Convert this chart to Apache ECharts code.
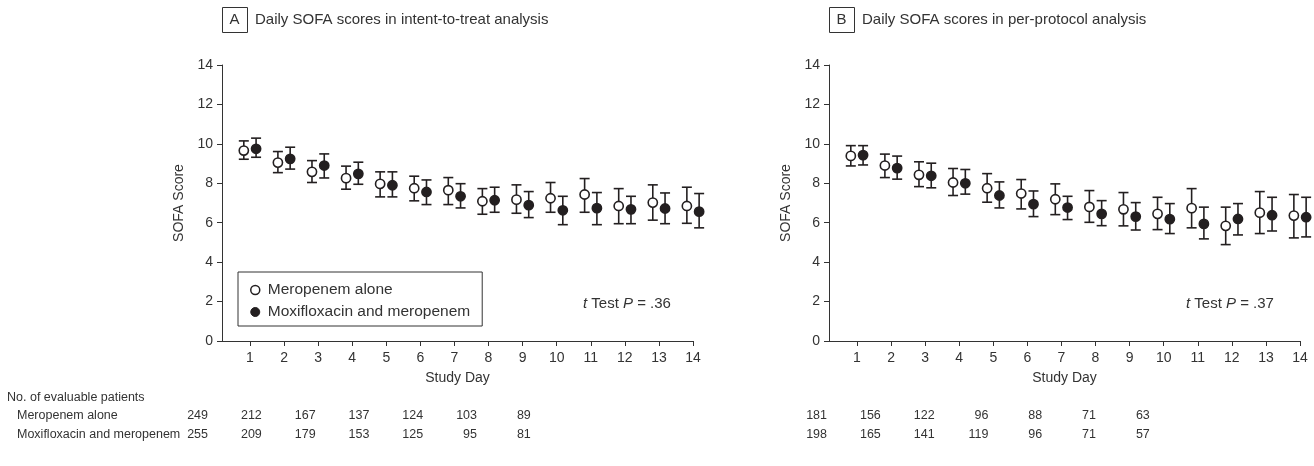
<!DOCTYPE html>
<html>
<head>
<meta charset="utf-8">
<script src="https://cdn.jsdelivr.net/npm/echarts@6/dist/echarts.min.js"></script>
<style>
html,body{margin:0;padding:0;background:#fff;}
#chart{width:1314px;height:466px;}
</style>
</head>
<body>
<div id="chart"></div>
<script>
// ---------- data ----------
const days = [1,2,3,4,5,6,7,8,9,10,11,12,13,14];
const yTicks = [0,2,4,6,8,10,12,14];

// Panel A: intent-to-treat
const ittMeroMean = [9.66, 9.05, 8.58, 8.26, 7.97, 7.75, 7.65, 7.09, 7.17, 7.24, 7.43, 6.85, 7.02, 6.85];
const ittMeroLo   = [9.22, 8.54, 8.04, 7.70, 7.31, 7.11, 6.92, 6.43, 6.48, 6.53, 6.53, 5.95, 6.13, 5.97];
const ittMeroHi   = [10.15, 9.61, 9.15, 8.87, 8.58, 8.36, 8.29, 7.73, 7.92, 8.04, 8.24, 7.73, 7.92, 7.80];
const ittMoxiMean = [9.75, 9.24, 8.90, 8.48, 7.90, 7.56, 7.34, 7.14, 6.89, 6.63, 6.74, 6.68, 6.72, 6.56];
const ittMoxiLo   = [9.32, 8.72, 8.27, 7.95, 7.31, 6.92, 6.75, 6.53, 6.26, 5.90, 5.90, 5.95, 5.95, 5.74];
const ittMoxiHi   = [10.29, 9.83, 9.49, 9.07, 8.58, 8.17, 7.98, 7.80, 7.58, 7.34, 7.53, 7.34, 7.51, 7.48];

// Panel B: per-protocol
const ppMeroMean = [9.39, 8.90, 8.43, 8.04, 7.75, 7.48, 7.19, 6.80, 6.68, 6.45, 6.74, 5.84, 6.51, 6.36];
const ppMeroLo   = [8.88, 8.29, 7.83, 7.38, 7.04, 6.70, 6.41, 6.02, 5.84, 5.65, 5.74, 4.89, 5.45, 5.23];
const ppMeroHi   = [9.91, 9.48, 9.09, 8.75, 8.49, 8.19, 7.97, 7.63, 7.53, 7.29, 7.73, 6.79, 7.58, 7.43];
const ppMoxiMean = [9.43, 8.77, 8.38, 8.00, 7.38, 6.94, 6.77, 6.45, 6.31, 6.18, 5.94, 6.19, 6.38, 6.28];
const ppMoxiLo   = [8.93, 8.21, 7.77, 7.45, 6.75, 6.31, 6.16, 5.85, 5.63, 5.45, 5.18, 5.38, 5.58, 5.28];
const ppMoxiHi   = [9.91, 9.38, 9.02, 8.70, 8.07, 7.61, 7.34, 7.12, 7.02, 6.97, 6.79, 6.97, 7.29, 7.29];

// Numbers of evaluable patients
const ittNMero = [249, 212, 167, 137, 124, 103, 89];
const ittNMoxi = [255, 209, 179, 153, 125, 95, 81];
const ppNMero  = [181, 156, 122, 96, 88, 71, 63];
const ppNMoxi  = [198, 165, 141, 119, 96, 71, 57];

const seriesNames = ['Meropenem alone', 'Moxifloxacin and meropenem'];
const panelTitles = ['Daily SOFA scores in intent-to-treat analysis', 'Daily SOFA scores in per-protocol analysis'];
const panelLetters = ['A', 'B'];
const pValues = ['.36', '.37'];

// ---------- helpers ----------
const INK = '#231f20';
const TXT = '#333';
const FONT = '"Liberation Sans", Arial, sans-serif';

function rows(mean, lo, hi) {
  return days.map((d, i) => [d, mean[i], lo[i], hi[i]]);
}

function makeRender(dx, filled) {
  return function (params, api) {
    const x = api.value(0) + dx;
    const pm = api.coord([x, api.value(1)]);
    const pl = api.coord([x, api.value(2)]);
    const ph = api.coord([x, api.value(3)]);
    const cap = 5;
    const ls = { stroke: INK, lineWidth: 1.6 };
    return {
      type: 'group',
      children: [
        { type: 'line', shape: { x1: pl[0], y1: pl[1], x2: ph[0], y2: ph[1] }, style: ls },
        { type: 'line', shape: { x1: ph[0] - cap, y1: ph[1], x2: ph[0] + cap, y2: ph[1] }, style: ls },
        { type: 'line', shape: { x1: pl[0] - cap, y1: pl[1], x2: pl[0] + cap, y2: pl[1] }, style: ls },
        { type: 'circle', shape: { cx: pm[0], cy: pm[1], r: 4.6 },
          style: { fill: filled ? INK : '#fff', stroke: INK, lineWidth: 1.6 } }
      ]
    };
  };
}

const DX = 0.18;
const gridsPos = [{ left: 222 }, { left: 829 }];

const grids = gridsPos.map(g => ({ left: g.left, top: 65, width: 471, height: 276 }));

const xAxes = [0, 1].map(i => ({
  gridIndex: i, type: 'value', min: 0.18, max: 14,
  name: 'Study Day', nameLocation: 'middle', nameGap: 30,
  nameTextStyle: { fontSize: 14, color: TXT, fontFamily: FONT },
  axisLine: { show: true, lineStyle: { color: TXT, width: 1 } },
  axisTick: { show: true, length: 5, customValues: days, lineStyle: { color: TXT } },
  axisLabel: { customValues: days, margin: 10, fontSize: 14, color: TXT, fontFamily: FONT },
  splitLine: { show: false }
}));

const yAxes = [0, 1].map(i => ({
  gridIndex: i, type: 'value', min: 0, max: 14, interval: 2,
  name: 'SOFA Score', nameLocation: 'middle', nameGap: 36,
  nameTextStyle: { fontSize: 14, color: TXT, fontFamily: FONT },
  axisLine: { show: true, lineStyle: { color: TXT, width: 1 } },
  axisTick: { show: true, length: 5, lineStyle: { color: TXT } },
  axisLabel: { margin: 9, fontSize: 14, color: TXT, fontFamily: FONT },
  splitLine: { show: false }
}));

const panelData = [
  [rows(ittMeroMean, ittMeroLo, ittMeroHi), rows(ittMoxiMean, ittMoxiLo, ittMoxiHi)],
  [rows(ppMeroMean, ppMeroLo, ppMeroHi), rows(ppMoxiMean, ppMoxiLo, ppMoxiHi)]
];

const series = [];
[0, 1].forEach(p => {
  series.push({
    type: 'custom', name: seriesNames[0], xAxisIndex: p, yAxisIndex: p, clip: false,
    itemStyle: { color: '#fff', borderColor: INK },
    renderItem: makeRender(-DX, false), data: panelData[p][0],
    encode: { x: 0, y: 1 }
  });
  series.push({
    type: 'custom', name: seriesNames[1], xAxisIndex: p, yAxisIndex: p, clip: false,
    itemStyle: { color: INK },
    renderItem: makeRender(DX, true), data: panelData[p][1],
    encode: { x: 0, y: 1 }
  });
});

// ---------- graphic text (titles, table, p-values) ----------
const graphic = [];
[0, 1].forEach(p => {
  const ax = gridsPos[p].left;
  graphic.push({ type: 'rect', left: ax, top: 7, shape: { width: 25, height: 25 },
    style: { fill: '#fff', stroke: TXT, lineWidth: 1 } });
  graphic.push({ type: 'text', x: ax + 12.5, y: 20,
    style: { text: panelLetters[p], fontSize: 15, fill: TXT, fontFamily: FONT, align: 'center', verticalAlign: 'middle' } });
  graphic.push({ type: 'text', x: ax + 33, y: 20,
    style: { text: panelTitles[p], fontSize: 15, fill: TXT, fontFamily: FONT, align: 'left', verticalAlign: 'middle' } });
});
const pRich = { i: { fontStyle: 'italic', fontSize: 15, fill: TXT, fontFamily: FONT } };
graphic.push({ type: 'text', x: 583, y: 304, style: {
  text: '{i|t} Test {i|P} = ' + pValues[0], fontSize: 15, fill: TXT, fontFamily: FONT, verticalAlign: 'middle', rich: pRich } });
graphic.push({ type: 'text', x: 1186, y: 304, style: {
  text: '{i|t} Test {i|P} = ' + pValues[1], fontSize: 15, fill: TXT, fontFamily: FONT, verticalAlign: 'middle', rich: pRich } });

const rowY = [416, 435];
graphic.push({ type: 'text', x: 7, y: 398, style: { text: 'No. of evaluable patients', fontSize: 12.5, fill: TXT, fontFamily: FONT, verticalAlign: 'middle' } });
seriesNames.forEach((n, r) => {
  graphic.push({ type: 'text', x: 17, y: rowY[r], style: { text: n, fontSize: 12.5, fill: TXT, fontFamily: FONT, verticalAlign: 'middle' } });
});
const tableRight = [208, 827];
const colStep = 53.8;
[[ittNMero, ittNMoxi], [ppNMero, ppNMoxi]].forEach((pair, p) => {
  pair.forEach((arr, r) => {
    arr.forEach((v, k) => {
      graphic.push({ type: 'text', x: tableRight[p] + colStep * k, y: rowY[r],
        style: { text: String(v), fontSize: 12.5, fill: TXT, fontFamily: FONT, align: 'right', verticalAlign: 'middle' } });
    });
  });
});

const option = {
  animation: false,
  backgroundColor: '#fff',
  textStyle: { fontFamily: FONT },
  grid: grids,
  xAxis: xAxes,
  yAxis: yAxes,
  legend: {
    seriesIndex: [0, 1],
    data: [
      { name: seriesNames[0], icon: 'circle', itemStyle: { color: '#fff', borderColor: INK, borderWidth: 1.5 } },
      { name: seriesNames[1], icon: 'circle', itemStyle: { color: INK, borderColor: INK, borderWidth: 1 } }
    ],
    orient: 'vertical', left: 238, top: 272,
    padding: [10, 12, 6, 12], itemGap: 6, itemWidth: 9, itemHeight: 9,
    borderColor: TXT, borderWidth: 1, selectedMode: false,
    textStyle: { fontSize: 15.5, color: TXT, fontFamily: FONT, padding: [0, 0, 0, 3] }
  },
  series: series,
  graphic: graphic
};

const chart = echarts.init(document.getElementById('chart'), null, { renderer: 'canvas' });
chart.setOption(option);
</script>
</body>
</html>
